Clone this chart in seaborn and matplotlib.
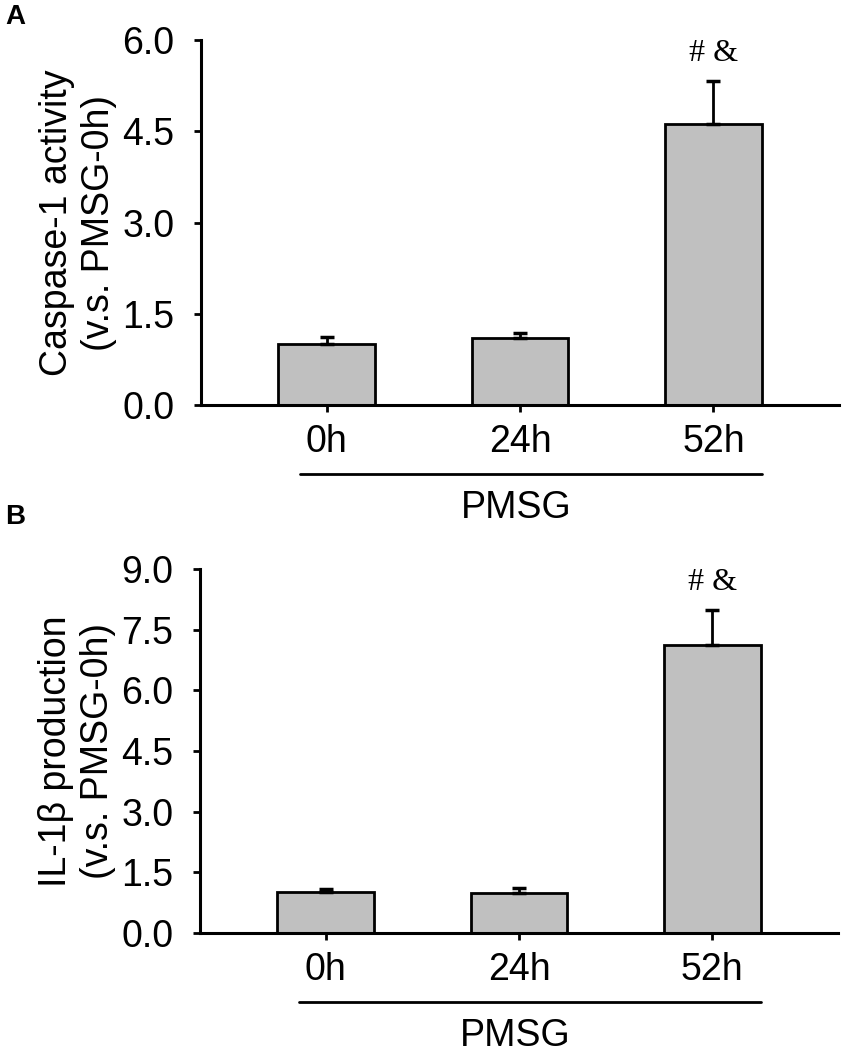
import seaborn as sns
import matplotlib.pyplot as plt

# data (mean, upper SEM)
groups = ['0h', '24h', '52h']
casp_mean = [1.00, 1.10, 4.62]
casp_err = [0.12, 0.09, 0.71]
il1b_mean = [1.01, 0.98, 7.12]
il1b_err = [0.07, 0.14, 0.86]
casp_ticks = [0.0, 1.5, 3.0, 4.5, 6.0]
il1b_ticks = [0.0, 1.5, 3.0, 4.5, 6.0, 7.5, 9.0]
sig_marks = ['', '', '# &']

sns.set_style("ticks", {'axes.edgecolor': 'black', 'text.color': 'black',
                        'axes.labelcolor': 'black', 'xtick.color': 'black', 'ytick.color': 'black'})
plt.rcParams['font.family'] = ['Liberation Sans', 'DejaVu Sans']
plt.rcParams['axes.linewidth'] = 2.2


def panel(ax, means, errs, ticks, ylabel):
   sns.barplot(x=groups, y=means, color='#c0c0c0', saturation=1, edgecolor='black',
               linewidth=2, width=0.5, ax=ax)
   ax.errorbar(range(len(groups)), means, yerr=[[0] * len(errs), errs], fmt='none',
               ecolor='black', elinewidth=2, capsize=5, capthick=2.5, zorder=3)
   for i, s in enumerate(sig_marks):
      if s:
         ax.annotate(s, (i, means[i] + errs[i]), xytext=(0, 20), textcoords='offset points',
                     ha='center', va='center', fontsize=23, family='Liberation Serif')
   ax.set_xlim(-0.65, 2.65)
   ax.set_ylim(ticks[0], ticks[-1])
   ax.set_yticks(ticks)
   ax.set_yticklabels(['%.1f' % t for t in ticks])
   sns.despine(ax=ax)
   ax.tick_params(axis='both', labelsize=27, width=2, length=5)
   ax.tick_params(axis='x', pad=9)
   ax.tick_params(axis='y', pad=14)
   ax.set_xlabel('')
   ax.set_ylabel(ylabel, fontsize=27, linespacing=1.2, labelpad=4)
   # PMSG bracket under the tick labels
   tr = ax.get_xaxis_transform()
   ax.plot([-0.14, 2.25], [-0.19, -0.19], color='black', lw=2, transform=tr, clip_on=False)
   ax.text(0.98, -0.282, 'PMSG', transform=tr, ha='center', va='center', fontsize=27)


fig = plt.figure(figsize=(8.5, 10.62), dpi=100)
ax1 = fig.add_axes([0.2365, 0.6186, 0.7506, 0.3437])
ax2 = fig.add_axes([0.2353, 0.1215, 0.7506, 0.3427])
panel(ax1, casp_mean, casp_err, casp_ticks, 'Caspase-1 activity\n(v.s. PMSG-0h)')
panel(ax2, il1b_mean, il1b_err, il1b_ticks, 'IL-1\u03b2 production\n(v.s. PMSG-0h)')
fig.text(0.006, 0.984, 'A', fontsize=20, fontweight='bold', ha='left', va='center')
fig.text(0.006, 0.513, 'B', fontsize=20, fontweight='bold', ha='left', va='center')

plt.savefig('out.png', dpi=100)
